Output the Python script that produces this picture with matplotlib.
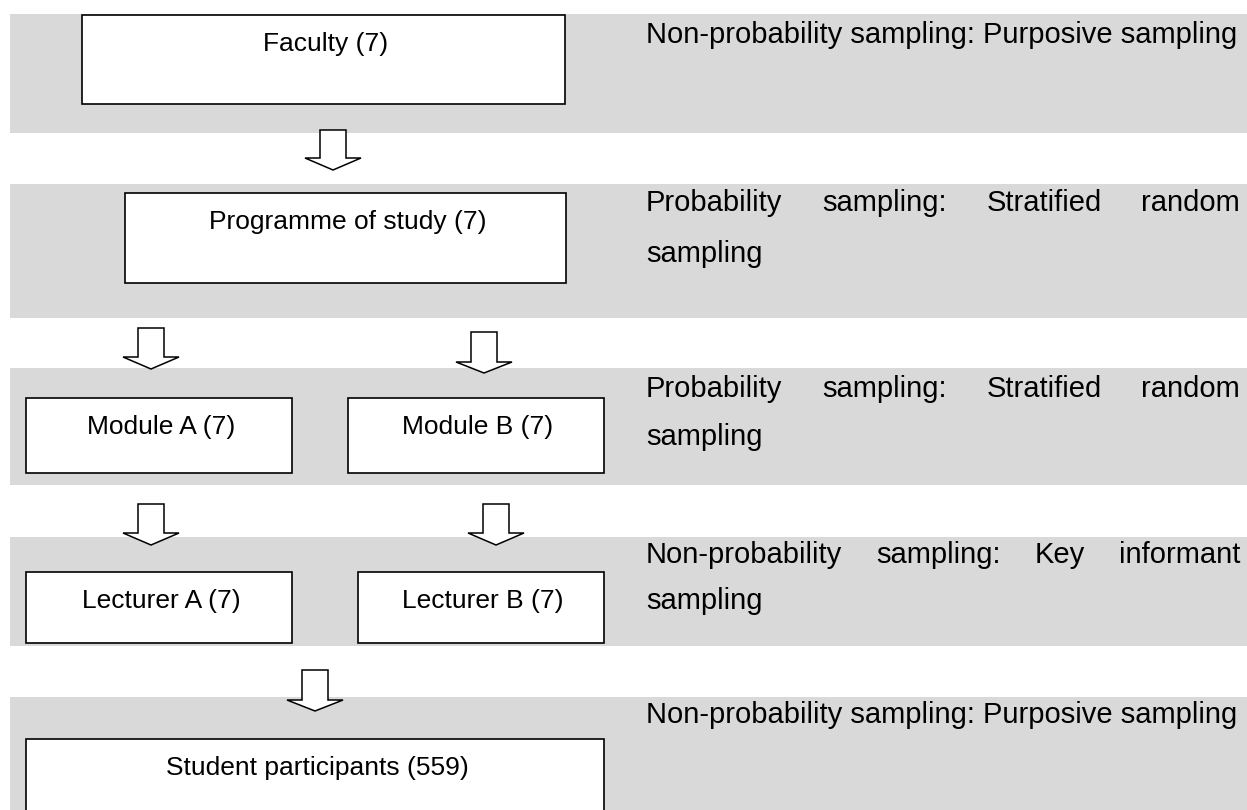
import matplotlib
matplotlib.use('Agg')
import matplotlib.pyplot as plt
from matplotlib.patches import Rectangle, Polygon

plt.rcParams['font.family'] = ['Liberation Sans', 'DejaVu Sans']

# diagram content
box_labels = ['Faculty (7)', 'Programme of study (7)', 'Module A (7)', 'Module B (7)',
              'Lecturer A (7)', 'Lecturer B (7)', 'Student participants (559)']
# box extents in pixels: x0, x1, y0 (top), y1 (bottom)
box_pos = [(82, 565, 15, 104), (125, 566, 193, 283), (26, 292, 398, 473), (348, 604, 398, 473),
           (26, 292, 572, 643), (358, 604, 572, 643), (26, 604, 739, 820)]

method_lines = [
    ['Non-probability sampling: Purposive sampling'],
    ['Probability sampling: Stratified random', 'sampling'],
    ['Probability sampling: Stratified random', 'sampling'],
    ['Non-probability sampling: Key informant', 'sampling'],
    ['Non-probability sampling: Purposive sampling'],
]
band_y = [(14, 133), (184, 318), (368, 485), (537, 646), (697, 810)]
line_base = [[43], [211, 262], [397, 445], [563, 609], [723]]

# arrows: centre x, shaft top, head base, tip
arrows = [(333, 130, 158, 170), (151, 328, 357, 369), (484, 332, 362, 373),
          (151, 504, 533, 545), (496, 504, 533, 545), (315, 670, 700, 711)]

W, H = 1247, 810
fig = plt.figure(figsize=(W / 100, H / 100), dpi=100)
ax = fig.add_axes([0, 0, 1, 1])
ax.set_xlim(0, W)
ax.set_ylim(H, 0)
ax.axis('off')

FS_BOX = 19
FS = 21
TX0, TX1 = 646, 1240

for y0, y1 in band_y:
    ax.add_patch(Rectangle((10, y0), W - 10, y1 - y0, facecolor='#d9d9d9', edgecolor='none', zorder=0))

for (x0, x1, y0, y1), lab in zip(box_pos, box_labels):
    ax.add_patch(Rectangle((x0, y0), x1 - x0, y1 - y0, facecolor='white', edgecolor='black',
                           lw=1.2, zorder=2))
    ax.text((x0 + x1) / 2 + 2, y0 + 36, lab, fontsize=FS_BOX, ha='center', va='baseline', zorder=3)

for cx, top, base, tip in arrows:
    sw, hw = 13, 28
    pts = [(cx - sw, top), (cx + sw, top), (cx + sw, base), (cx + hw, base), (cx, tip),
           (cx - hw, base), (cx - sw, base)]
    ax.add_patch(Polygon(pts, closed=True, facecolor='white', edgecolor='black', lw=1.1, zorder=2))

# justified text on the right
fig.canvas.draw()
rend = fig.canvas.get_renderer()
inv = ax.transData.inverted()


def width_of(s):
    t = ax.text(0, 0, s, fontsize=FS)
    bb = t.get_window_extent(renderer=rend)
    t.remove()
    p0 = inv.transform((bb.x0, bb.y0))
    p1 = inv.transform((bb.x1, bb.y0))
    return p1[0] - p0[0]


for lines, bases in zip(method_lines, line_base):
    for k, (line, yb) in enumerate(zip(lines, bases)):
        words = line.split()
        last = k == len(lines) - 1
        if last or len(words) == 1:
            ax.text(TX0, yb, line, fontsize=FS, ha='left', va='baseline', zorder=3)
            continue
        ws = [width_of(w) for w in words]
        gap = (TX1 - TX0 - sum(ws)) / (len(words) - 1)
        x = TX0
        for w, wd in zip(words, ws):
            ax.text(x, yb, w, fontsize=FS, ha='left', va='baseline', zorder=3)
            x += wd + gap

fig.savefig('out.png', dpi=100)
